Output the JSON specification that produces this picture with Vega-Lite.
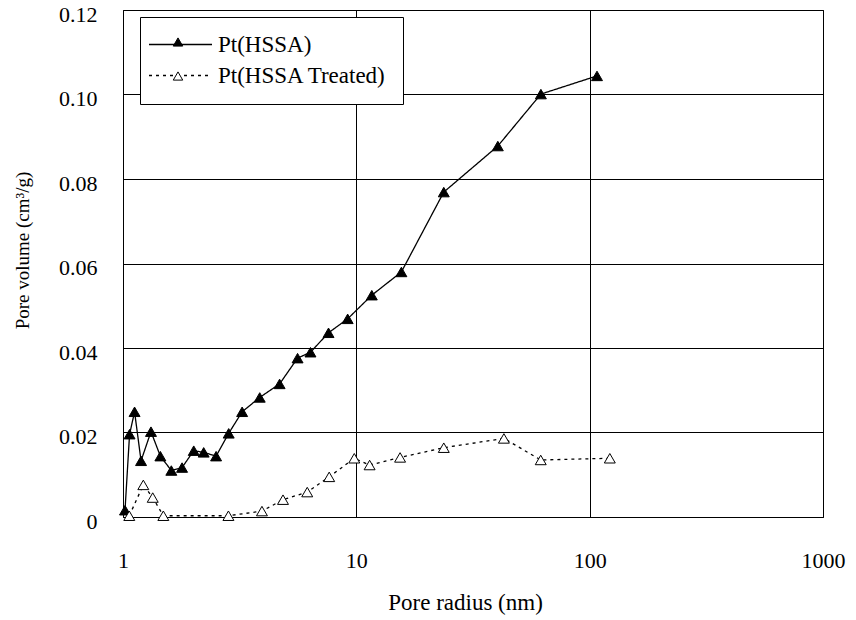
{
  "$schema": "https://vega.github.io/schema/vega-lite/v6.json",
  "width": 700,
  "height": 507,
  "autosize": {"type": "none"},
  "padding": {"left": 123, "top": 10, "right": 33, "bottom": 103},
  "background": "white",
  "config": {
    "font": "Liberation Serif",
    "view": {"stroke": "black", "strokeWidth": 1},
    "axis": {
      "domain": false,
      "ticks": false,
      "grid": true,
      "gridColor": "black",
      "gridOpacity": 1,
      "gridWidth": 1,
      "labelFont": "Liberation Serif",
      "titleFont": "Liberation Serif",
      "labelColor": "black",
      "titleColor": "black",
      "titleFontWeight": "normal"
    }
  },
  "data": {
    "values": [
      {"r": 1.02, "v": 0.0016, "s": "Pt(HSSA)", "k": "a"},
      {"r": 1.067, "v": 0.0196, "s": "Pt(HSSA)", "k": "a"},
      {"r": 1.121, "v": 0.0249, "s": "Pt(HSSA)", "k": "a"},
      {"r": 1.195, "v": 0.0133, "s": "Pt(HSSA)", "k": "a"},
      {"r": 1.318, "v": 0.0202, "s": "Pt(HSSA)", "k": "a"},
      {"r": 1.446, "v": 0.0144, "s": "Pt(HSSA)", "k": "a"},
      {"r": 1.611, "v": 0.011, "s": "Pt(HSSA)", "k": "a"},
      {"r": 1.791, "v": 0.0117, "s": "Pt(HSSA)", "k": "a"},
      {"r": 2.01, "v": 0.0157, "s": "Pt(HSSA)", "k": "a"},
      {"r": 2.217, "v": 0.0153, "s": "Pt(HSSA)", "k": "a"},
      {"r": 2.506, "v": 0.0144, "s": "Pt(HSSA)", "k": "a"},
      {"r": 2.838, "v": 0.0198, "s": "Pt(HSSA)", "k": "a"},
      {"r": 3.24, "v": 0.0249, "s": "Pt(HSSA)", "k": "a"},
      {"r": 3.855, "v": 0.0283, "s": "Pt(HSSA)", "k": "a"},
      {"r": 4.69, "v": 0.0315, "s": "Pt(HSSA)", "k": "a"},
      {"r": 5.6, "v": 0.0376, "s": "Pt(HSSA)", "k": "a"},
      {"r": 6.36, "v": 0.039, "s": "Pt(HSSA)", "k": "a"},
      {"r": 7.6, "v": 0.0436, "s": "Pt(HSSA)", "k": "a"},
      {"r": 9.18, "v": 0.0469, "s": "Pt(HSSA)", "k": "a"},
      {"r": 11.65, "v": 0.0525, "s": "Pt(HSSA)", "k": "a"},
      {"r": 15.6, "v": 0.058, "s": "Pt(HSSA)", "k": "a"},
      {"r": 23.7, "v": 0.0769, "s": "Pt(HSSA)", "k": "a"},
      {"r": 40.4, "v": 0.0878, "s": "Pt(HSSA)", "k": "a"},
      {"r": 61.8, "v": 0.1001, "s": "Pt(HSSA)", "k": "a"},
      {"r": 107.5, "v": 0.1044, "s": "Pt(HSSA)", "k": "a"},
      {"r": 1.064, "v": 0.0003, "s": "Pt(HSSA Treated)", "k": "b"},
      {"r": 1.222, "v": 0.0076, "s": "Pt(HSSA Treated)", "k": "b"},
      {"r": 1.341, "v": 0.0046, "s": "Pt(HSSA Treated)", "k": "b"},
      {"r": 1.489, "v": 0.0003, "s": "Pt(HSSA Treated)", "k": "b"},
      {"r": 2.83, "v": 0.0003, "s": "Pt(HSSA Treated)", "k": "b"},
      {"r": 3.94, "v": 0.0014, "s": "Pt(HSSA Treated)", "k": "b"},
      {"r": 4.85, "v": 0.0041, "s": "Pt(HSSA Treated)", "k": "b"},
      {"r": 6.16, "v": 0.0059, "s": "Pt(HSSA Treated)", "k": "b"},
      {"r": 7.65, "v": 0.0095, "s": "Pt(HSSA Treated)", "k": "b"},
      {"r": 9.8, "v": 0.0139, "s": "Pt(HSSA Treated)", "k": "b"},
      {"r": 11.4, "v": 0.0123, "s": "Pt(HSSA Treated)", "k": "b"},
      {"r": 15.4, "v": 0.0141, "s": "Pt(HSSA Treated)", "k": "b"},
      {"r": 23.7, "v": 0.0164, "s": "Pt(HSSA Treated)", "k": "b"},
      {"r": 42.9, "v": 0.0186, "s": "Pt(HSSA Treated)", "k": "b"},
      {"r": 61.7, "v": 0.0135, "s": "Pt(HSSA Treated)", "k": "b"},
      {"r": 122, "v": 0.0139, "s": "Pt(HSSA Treated)", "k": "b"}
    ]
  },
  "encoding": {
    "x": {
      "field": "r",
      "type": "quantitative",
      "scale": {"type": "log", "domain": [1, 1000], "nice": false},
      "axis": {
        "values": [1, 10, 100, 1000],
        "format": "d",
        "labelFlush": false,
        "labelFontSize": 22,
        "labelPadding": 33,
        "title": "Pore radius (nm)",
        "titleFontSize": 23,
        "titlePadding": 20,
        "titleX": 342
      }
    },
    "y": {
      "field": "v",
      "type": "quantitative",
      "scale": {"domain": [0, 0.12], "nice": false},
      "axis": {
        "values": [0, 0.02, 0.04, 0.06, 0.08, 0.1, 0.12],
        "labelExpr": "datum.value == 0 ? '0' : format(datum.value, '.2f')",
        "labelFontSize": 22,
        "labelPadding": 26,
        "labelOffset": 4,
        "title": "Pore volume (cm³/g)",
        "titleFontSize": 19,
        "titlePadding": 26,
        "titleY": 240
      }
    }
  },
  "layer": [
    {
      "mark": {"type": "line", "color": "black", "strokeWidth": 1.3},
      "encoding": {
        "strokeDash": {
          "field": "s",
          "type": "nominal",
          "scale": {"domain": ["Pt(HSSA)", "Pt(HSSA Treated)"], "range": [[1, 0], [3, 4]]},
          "legend": {
            "orient": "none",
            "legendX": 17,
            "legendY": 7,
            "title": null,
            "symbolType": "M-3.7,0H8.9",
            "symbolSize": 100,
            "symbolStrokeColor": "black",
            "symbolStrokeWidth": 1.3,
            "labelFont": "Liberation Serif",
            "labelFontSize": 23,
            "labelColor": "black",
            "labelOffset": 39,
            "labelLimit": 0,
            "padding": 16,
            "rowPadding": 7,
            "strokeColor": "black",
            "fillColor": "white"
          }
        }
      }
    },
    {
      "mark": {"type": "point", "shape": "triangle-up", "filled": true, "stroke": "black", "strokeWidth": 1, "size": 120, "opacity": 1},
      "encoding": {
        "fill": {
          "field": "k",
          "type": "nominal",
          "scale": {"domain": ["a", "b"], "range": ["black", "white"]},
          "legend": {
            "orient": "none",
            "legendX": 33.5,
            "legendY": 10.5,
            "title": null,
            "symbolType": "triangle-up",
            "symbolSize": 90,
            "symbolStrokeColor": "black",
            "symbolStrokeWidth": 1,
            "symbolOpacity": 1,
            "labelExpr": "''",
            "labelFontSize": 1,
            "labelOffset": 0,
            "padding": 16,
            "rowPadding": 21
          }
        }
      }
    }
  ]
}
